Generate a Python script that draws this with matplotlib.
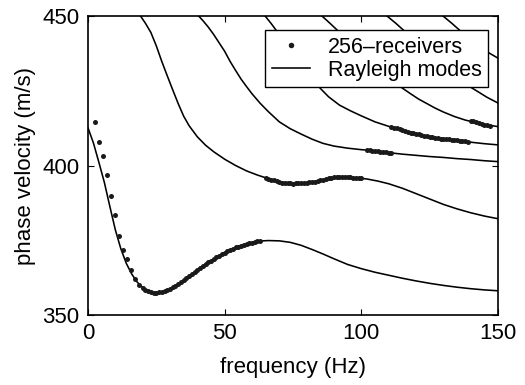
import matplotlib
matplotlib.use("Agg")
import matplotlib.pyplot as plt

plt.rcParams['font.family'] = ['Liberation Sans', 'DejaVu Sans']

# ---- Rayleigh mode curves (frequency in Hz, phase velocity in m/s) ----
mode0_f = [0, 2, 4, 6, 8, 10, 12, 14, 16, 18, 20, 22, 24, 26, 28, 30, 34, 38, 42, 46,
           50, 54, 58, 62, 66, 70, 74, 78, 82, 86, 90, 95, 100, 105, 110, 115, 120,
           125, 130, 135, 140, 145, 150]
mode0_v = [412.6, 407.5, 401.0, 394.3, 386.3, 378.5, 372.2, 367.3, 363.7, 361.0, 359.2,
           358.1, 357.5, 357.5, 357.9, 358.6, 360.9, 363.7, 366.5, 368.8, 370.9, 372.6,
           373.9, 374.7, 374.9, 374.8, 374.3, 373.3, 371.9, 370.4, 368.8, 366.9, 365.5,
           364.3, 363.3, 362.3, 361.4, 360.6, 359.9, 359.3, 358.8, 358.4, 358.1]

mode1_f = [19.2, 21, 23, 25, 27, 29, 31, 33, 35, 37, 40, 43, 46, 50, 54, 58, 62, 66, 70,
           74, 78, 82, 86, 90, 94, 98, 102, 106, 110, 115, 120, 125, 130, 135, 140, 145, 150]
mode1_v = [450.0, 447.6, 444.5, 440.0, 434.8, 430.0, 425.3, 420.7, 416.5, 413.3, 409.6,
           406.8, 404.6, 402.1, 400.0, 398.2, 396.8, 395.6, 394.6, 394.0, 394.1, 394.5,
           395.2, 395.9, 396.1, 395.9, 395.5, 394.8, 393.9, 392.4, 390.6, 388.8, 387.0,
           385.5, 384.2, 383.1, 382.2]

mode2_f = [40.5, 42, 44, 46, 48, 50, 52, 54, 56, 58, 60, 63, 66, 70, 74, 78, 82, 86, 90,
           95, 100, 105, 110, 115, 120, 125, 130, 135, 140, 145, 150]
mode2_v = [450.0, 448.5, 446.3, 443.8, 441.0, 438.2, 434.8, 431.8, 428.9, 426.4, 424.0,
           420.8, 418.0, 414.6, 412.3, 410.5, 408.8, 407.4, 406.5, 405.8, 405.3, 404.9,
           404.3, 403.8, 403.4, 403.0, 402.7, 402.3, 402.0, 401.6, 401.3]

mode3_f = [64.8, 67, 70, 73, 76, 79, 82, 85, 88, 92, 96, 100, 105, 110, 115, 120, 125,
           130, 135, 140, 145, 150]
mode3_v = [450.0, 447.5, 443.8, 440.0, 436.3, 432.6, 429.2, 425.8, 423.0, 420.2, 418.3,
           416.6, 414.6, 413.1, 411.8, 410.6, 409.6, 408.9, 408.3, 407.8, 407.3, 406.9]

mode4_f = [85.6, 88.6, 92.9, 97.1, 101.3, 105.5, 109.6, 114.2, 118, 121, 124, 127, 130,
           134, 138, 142, 146, 150]
mode4_v = [450.0, 447.5, 443.8, 440.0, 436.3, 432.6, 429.2, 426.4, 424.0, 422.2, 420.7,
           419.2, 417.9, 416.4, 415.2, 414.3, 413.6, 413.0]

mode5_f = [109.4, 112.7, 117.2, 121.7, 126.2, 130.7, 135.2, 139.8, 143, 146, 150]
mode5_v = [450.0, 447.5, 443.8, 440.0, 436.3, 432.6, 429.2, 426.3, 424.5, 422.8, 420.9]

mode6_f = [129.9, 133.3, 137.5, 141.5, 145.5, 150]
mode6_v = [450.0, 447.4, 444.0, 440.9, 438.3, 435.9]

# ---- observed dispersion picks (256 receivers) ----
obs_f = [2.7, 4.1, 5.4, 6.8, 8.4, 9.9, 11.3, 12.8, 14.3, 15.8, 17.3, 18.8,
         20, 21, 22, 23, 24, 25, 26, 27, 28, 29, 30, 31, 32, 33, 34, 35, 36, 37, 38, 39,
         40, 41, 42, 43, 44, 45, 46, 47, 48, 49, 50, 51, 52, 53, 54, 55, 56, 57, 58, 59,
         60, 61, 62, 63,
         65, 66, 67, 68, 69, 70, 71, 72, 73, 74, 75, 76, 77, 78, 79, 80, 81, 82, 83, 84,
         85, 86, 87, 88, 89, 90, 91, 92, 93, 94, 95, 96, 97, 98, 99, 100,
         102, 103, 104, 105, 106, 107, 108, 109, 110, 111,
         111, 112, 113, 114, 115, 116, 117, 118, 119, 120, 121, 122, 123, 124, 125, 126,
         127, 128, 129, 130, 131, 132, 133, 134, 135, 136, 137, 138, 139,
         140, 141, 142, 143, 144, 145, 146, 147]
obs_v = [414.4, 407.7, 403.3, 396.8, 389.8, 383.6, 376.5, 371.8, 368.6, 365.0, 362.2, 360.2,
         359.0, 358.4, 358.0, 357.7, 357.5, 357.5, 357.6, 357.8, 358.1, 358.4, 358.8, 359.3,
         359.8, 360.4, 361.0, 361.6, 362.3, 363.0, 363.7, 364.3, 365.0, 365.7, 366.3, 367.0,
         367.6, 368.2, 368.8, 369.4, 369.9, 370.4, 370.9, 371.4, 371.8, 372.2, 372.6, 372.9,
         373.2, 373.5, 373.8, 374.0, 374.2, 374.4, 374.6, 374.7,
         395.9, 395.6, 395.3, 395.0, 394.8, 394.5, 394.3, 394.2, 394.0, 394.0, 393.9, 394.0,
         394.0, 394.1, 394.2, 394.3, 394.4, 394.5, 394.6, 394.8, 395.0, 395.3, 395.5, 395.7,
         395.9, 396.0, 396.1, 396.1, 396.1, 396.1, 396.0, 396.0, 395.9, 395.9, 395.8, 395.7,
         405.3, 405.2, 405.0, 404.9, 404.8, 404.6, 404.5, 404.4, 404.3, 404.1,
         413.0, 412.7, 412.4, 412.1, 411.8, 411.5, 411.2, 411.0, 410.8, 410.6, 410.4, 410.2,
         410.0, 409.8, 409.6, 409.4, 409.2, 409.1, 409.0, 408.9, 408.8, 408.7, 408.6, 408.5,
         408.4, 408.3, 408.2, 408.1, 408.0,
         415.0, 414.8, 414.5, 414.2, 414.0, 413.7, 413.5, 413.3]

x_ticks = [0, 50, 100, 150]
y_ticks = [350, 400, 450]

fig = plt.figure(figsize=(5.25, 3.85), dpi=100)
ax = fig.add_axes([0.1676, 0.1818, 0.781, 0.7766])

modes = [(mode0_f, mode0_v), (mode1_f, mode1_v), (mode2_f, mode2_v), (mode3_f, mode3_v),
         (mode4_f, mode4_v), (mode5_f, mode5_v), (mode6_f, mode6_v)]
for i, (f, v) in enumerate(modes):
    ax.plot(f, v, color='black', lw=1.15, solid_joinstyle='round',
            label='Rayleigh modes' if i == 0 else None, zorder=2)

ax.plot(obs_f, obs_v, linestyle='none', marker='o', ms=3.6, color='#1a1a1a',
        markeredgewidth=0, label='256–receivers', zorder=3)

ax.set_xlim(0, 150)
ax.set_ylim(350, 450)
ax.set_xticks(x_ticks)
ax.set_yticks(y_ticks)
ax.tick_params(direction='in', top=True, right=True, length=4, width=0.8,
               labelsize=16, pad=6)
for s in ax.spines.values():
    s.set_linewidth(1.2)

ax.set_xlabel('frequency (Hz)', fontsize=16, labelpad=9)
ax.set_ylabel('phase velocity (m/s)', fontsize=16, labelpad=5)

h, l = ax.get_legend_handles_labels()
leg = ax.legend(h[::-1], l[::-1], loc='upper right', bbox_to_anchor=(0.9756, 0.952),
                fontsize=15.5, frameon=True, fancybox=False, framealpha=1,
                edgecolor='black', handlelength=1.8, handletextpad=0.8,
                borderpad=0.3, labelspacing=0.1, borderaxespad=0.0, markerscale=1.1)
leg.get_frame().set_linewidth(1.0)
leg.set_zorder(5)

fig.savefig('out.png', dpi=100)
